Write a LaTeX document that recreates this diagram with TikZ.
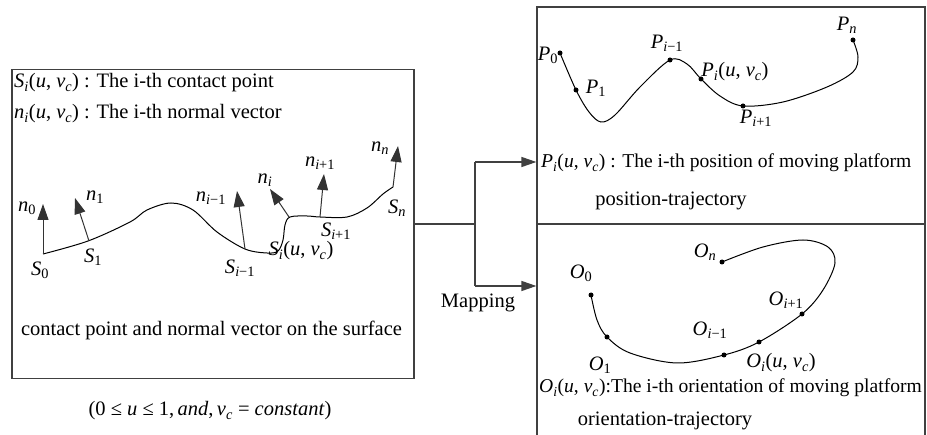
\documentclass[tikz,border=0pt]{standalone}
\usepackage{fontspec}
\setmainfont{Liberation Serif}
\usetikzlibrary{arrows.meta}
\newcommand{\iv}[1]{\textit{#1}}
\newcommand{\sbx}[1]{\textsubscript{#1}}
\begin{document}
\begin{tikzpicture}[x=1pt,y=-1pt,
  every node/.style={font=\fontsize{20.5}{24}\selectfont, inner sep=0pt},
  longtext/.style={font=\fontsize{19.6}{23}\selectfont},
  frame/.style={draw=black!75, line width=1.2pt},
  conn/.style={draw=black!75, line width=1.2pt},
  tip/.style={-{Triangle[length=15pt,width=10pt]}},
  nvec/.style={draw=black!80, line width=1pt, -{Triangle[length=16pt,width=11pt]}},
  curve/.style={draw=black, line width=1pt},
  dot/.style={circle, fill=black, minimum size=5pt, inner sep=0pt}]

\useasboundingbox (0,0) rectangle (927,435);

% boxes
\node[frame, minimum width=402pt, minimum height=309pt] (surf) at (213,224) {};
\node[frame, minimum width=388pt, minimum height=217pt] (pos) at (731,115.5) {};
\node[frame, minimum width=388pt, minimum height=214pt] (ori) at (731,331) {};

% connectors
\coordinate (j) at (475,224);
\coordinate (jt) at (475,162);
\coordinate (jb) at (475,286);
\draw[conn] (surf.east) -- (j);
\draw[conn] (jt) -- (jb);
\draw[conn, tip] (jt) -- (jt -| pos.west);
\draw[conn, tip] (jb) -- (jb -| ori.west);
\node[anchor=base] (map) at (478,308) {Mapping};

% left box texts
\node[anchor=base west] (t1) at (14,88) {\iv{S}\sbx{\iv{i}}(\iv{u}, \iv{v}\sbx{\iv{c}}) : The i-th contact point};
\node[anchor=base west] (t2) at (14,119) {\iv{n}\sbx{\iv{i}}(\iv{u}, \iv{v}\sbx{\iv{c}}) : The i-th normal vector};
\node[anchor=base] (t3) at (211.5,336) {contact point and normal vector on the surface};
\node[anchor=base] (t4) at (210,416) {(0 ≤ \iv{u} ≤ 1,\,\iv{and},\,\iv{v}\sbx{\iv{c}} = \iv{constant})};

% surface curve
\draw[curve] plot[smooth, tension=0.55] coordinates {
 (43,254) (88,241) (130,222) (147,210) (171,203) (193,210) (217,232) (245,249)
 (267,253) (278,251) (283,240) (285,225) (290,217) (307,216) (320,217)
 (347,217) (367,208) (383,194) (393,187)};

\coordinate (S0) at (43,254);
\coordinate (S1) at (89,241);
\coordinate (Sim) at (245,249);
\coordinate (Si) at (289,217);
\coordinate (Sip) at (320,217);
\coordinate (Sn) at (393,187);
\coordinate (N0) at (43,204);
\coordinate (N1) at (75,198);
\coordinate (Nim) at (237,191);
\coordinate (Ni) at (270,189);
\coordinate (Nip) at (324,174);
\coordinate (Nn) at (398,146);
\draw[nvec] (S0) -- (N0);
\draw[nvec] (S1) -- (N1);
\draw[nvec] (Sim) -- (Nim);
\draw[nvec] (Si) -- (Ni);
\draw[nvec] (Sip) -- (Nip);
\draw[nvec] (Sn) -- (Nn);

\node (ln0) at (27,208) {\iv{n}\sbx{0}};
\node (ln1) at (95,197) {\iv{n}\sbx{1}};
\node (lnim) at (211,198) {\iv{n}\sbx{\iv{i}−1}};
\node (lni) at (265,180) {\iv{n}\sbx{\iv{i}}};
\node (lnip) at (320,163) {\iv{n}\sbx{\iv{i}+1}};
\node (lnn) at (380,148) {\iv{n}\sbx{\iv{n}}};
\node (ls0) at (40,270) {\iv{S}\sbx{0}};
\node (ls1) at (93,257) {\iv{S}\sbx{1}};
\node (lsim) at (240,268) {\iv{S}\sbx{\iv{i}−1}};
\node (lsi) at (301,251) {\iv{S}\sbx{\iv{i}}(\iv{u}, \iv{v}\sbx{\iv{c}})};
\node (lsip) at (336,231) {\iv{S}\sbx{\iv{i}+1}};
\node (lsn) at (397,208) {\iv{S}\sbx{\iv{n}}};

% position trajectory
\draw[curve] plot[smooth, tension=0.55] coordinates {
 (560,53) (576,90) (589,112) (601,122) (615,115) (640,87) (670,60) (687,64)
 (701,79) (720,96) (743,106) (783,102) (827,87) (853,72) (858,57) (853,40)};
\node[dot] (p0) at (560,53) {};
\node[dot] (p1) at (576,90) {};
\node[dot] (pim) at (670,60) {};
\node[dot] (pi) at (701,79) {};
\node[dot] (pip) at (743,106) {};
\node[dot] (pn) at (853,40) {};
\node (lp0) at (548,55) {\iv{P}\sbx{0}};
\node (lp1) at (596,88) {\iv{P}\sbx{1}};
\node (lpim) at (667,43) {\iv{P}\sbx{\iv{i}−1}};
\node (lpi) at (735,72) {\iv{P}\sbx{\iv{i}}(\iv{u}, \iv{v}\sbx{\iv{c}})};
\node (lpip) at (756,118) {\iv{P}\sbx{\iv{i}+1}};
\node (lpn) at (847,25) {\iv{P}\sbx{\iv{n}}};
\node[longtext, anchor=base west] (tp1) at (541,168) {\iv{P}\sbx{\iv{i}}(\iv{u}, \iv{v}\sbx{\iv{c}}) : The i-th position of moving platform};
\node[anchor=base] (tp2) at (671,206) {position-trajectory};

% orientation trajectory
\draw[curve] plot[smooth, tension=0.55] coordinates {
 (591,295) (597,320) (607,337) (630,353) (677,363) (724,355) (759,342)
 (802,314) (823,290) (835,263) (828,247) (803,240) (763,247) (722,262)};
\node[dot] (o0) at (591,295) {};
\node[dot] (o1) at (607,337) {};
\node[dot] (oim) at (724,355) {};
\node[dot] (oi) at (759,342) {};
\node[dot] (oip) at (802,314) {};
\node[dot] (on) at (722,262) {};
\node (lo0) at (581,273) {\iv{O}\sbx{0}};
\node (lo1) at (600,365) {\iv{O}\sbx{1}};
\node (loim) at (710,330) {\iv{O}\sbx{\iv{i}−1}};
\node (loi) at (781,363) {\iv{O}\sbx{\iv{i}}(\iv{u}, \iv{v}\sbx{\iv{c}})};
\node (loip) at (786,300) {\iv{O}\sbx{\iv{i}+1}};
\node (lon) at (705,252) {\iv{O}\sbx{\iv{n}}};
\node[longtext, anchor=base west] (to1) at (539,393) {\iv{O}\sbx{\iv{i}}(\iv{u}, \iv{v}\sbx{\iv{c}}):The i-th orientation of moving platform};
\node[anchor=base] (to2) at (665,426) {orientation-trajectory};
\end{tikzpicture}
\end{document}
